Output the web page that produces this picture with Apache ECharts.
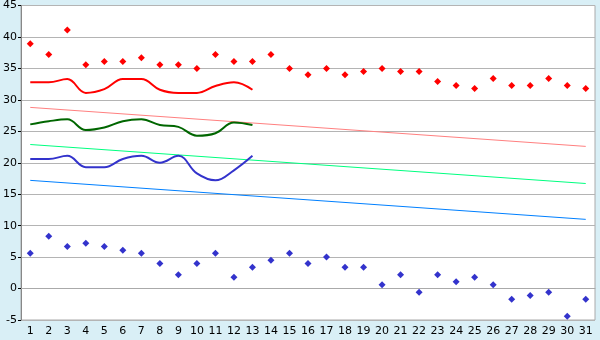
<!DOCTYPE html>
<html><head><meta charset="utf-8">
<script src="https://cdn.jsdelivr.net/npm/echarts@6/dist/echarts.min.js"></script>
<style>html,body{margin:0;padding:0;background:#d9eff6;}#c{width:600px;height:340px;}</style>
</head><body><div id="c"></div>
<script>
const days = ['1','2','3','4','5','6','7','8','9','10','11','12','13','14','15','16','17','18','19','20','21','22','23','24','25','26','27','28','29','30','31'];
const maxPoints = [38.9,37.2,41.1,35.6,36.1,36.1,36.7,35.6,35.6,35.0,37.2,36.1,36.1,37.2,35.0,34.0,35.0,34.0,34.5,35.0,34.5,34.5,32.9,32.3,31.8,33.4,32.3,32.3,33.4,32.3,31.8];
const minPoints = [5.6,8.3,6.7,7.2,6.7,6.1,5.6,4.0,2.2,4.0,5.6,1.8,3.4,4.5,5.6,4.0,5.0,3.4,3.4,0.6,2.2,-0.6,2.2,1.1,1.8,0.6,-1.7,-1.1,-0.6,-4.4,-1.7];
const maxLine = [32.8,32.8,33.3,31.1,31.7,33.3,33.3,31.6,31.1,31.1,32.2,32.8,31.6];
const meanLine = [26.1,26.6,26.9,25.2,25.6,26.6,26.9,26.0,25.7,24.3,24.7,26.4,26.0];
const minLine = [20.6,20.6,21.1,19.3,19.3,20.6,21.1,20.0,21.1,18.3,17.2,18.8,21.1];
const maxTrend = [['1',28.8],['31',22.6]];
const meanTrend = [['1',22.9],['31',16.7]];
const minTrend = [['1',17.2],['31',11.0]];
const yTicks = {min:-5, max:45, interval:5};

const chart = echarts.init(document.getElementById('c'), null, {renderer:'canvas'});
const font = {fontFamily:'DejaVu Sans', fontSize:11, color:'#000'};
const lineS = (data,color,w,smooth)=>({type:'line',data,smooth,symbol:'none',lineStyle:{color,width:w},itemStyle:{color},z:2,animation:false});
chart.setOption({
  animation:false,
  backgroundColor:'#d9eff6',
  grid:{left:20,right:5,top:5,bottom:20,show:true,backgroundColor:'#ffffff',borderColor:'#aaaaaa',borderWidth:1},
  xAxis:{type:'category',data:days,boundaryGap:true,
    axisLine:{lineStyle:{color:'#aaaaaa'}},
    axisTick:{alignWithLabel:true,length:4,lineStyle:{color:'#000'}},
    axisLabel:Object.assign({margin:6,interval:0},font),splitLine:{show:false}},
  yAxis:{type:'value',min:yTicks.min,max:yTicks.max,interval:yTicks.interval,
    axisLine:{show:true,lineStyle:{color:'#888888'}},
    axisTick:{show:true,length:3,lineStyle:{color:'#000'}},
    axisLabel:Object.assign({margin:4},font),
    splitLine:{lineStyle:{color:'#b4b4b4',width:1}}},
  series:[
    lineS(maxTrend,'#ff8080',1,false),
    lineS(meanTrend,'#00ff80',1,false),
    lineS(minTrend,'#0080ff',1,false),
    lineS(maxLine,'#ff0000',2,0.4),
    lineS(meanLine,'#006600',2,0.4),
    lineS(minLine,'#3333cc',2,0.4),
    {type:'scatter',data:maxPoints,symbol:'diamond',symbolSize:7,itemStyle:{color:'#ff0000',opacity:1},z:3},
    {type:'scatter',data:minPoints,symbol:'diamond',symbolSize:7,itemStyle:{color:'#3333cc',opacity:1},z:3}
  ]
});
</script></body></html>
